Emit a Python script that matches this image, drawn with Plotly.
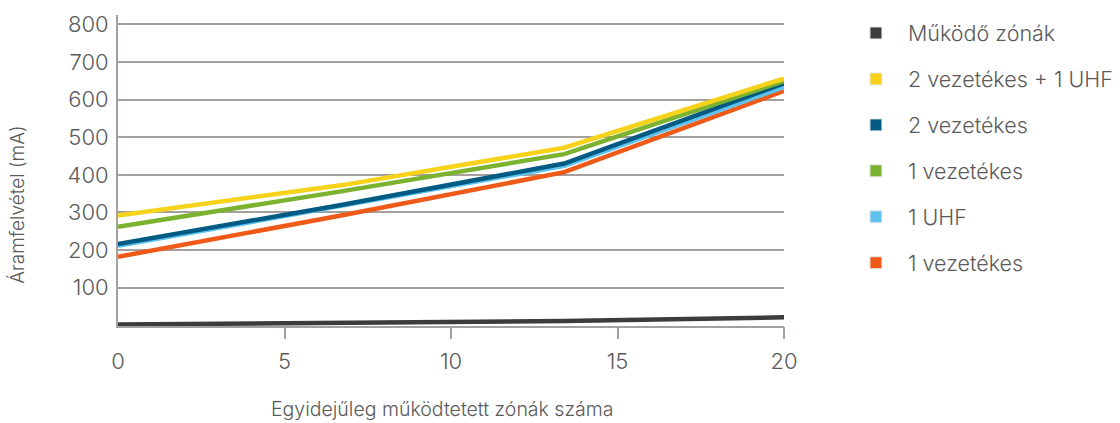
import plotly.graph_objects as go

# Number of simultaneously operated zones
zones = [0, 6.7, 13.4, 20]

# Current draw (mA) per configuration
mukodo_zonak = [2, 6, 11, 21]
ket_vez_uhf = [292, 372, 472, 656]
ket_vez = [216, 320, 430, 643]
egy_vez_zold = [262, 356, 455, 649]
egy_uhf = [211, 316, 424, 634]
egy_vez_narancs = [182, 292, 407, 623]

y_ticks = [100, 200, 300, 400, 500, 600, 700, 800]
x_ticks = [0, 5, 10, 15, 20]

series = [
    ("Működő zónák", mukodo_zonak, "#3c3c3c"),
    ("2 vezetékes + 1 UHF", ket_vez_uhf, "#f6d31a"),
    ("2 vezetékes", ket_vez, "#035b84"),
    ("1 vezetékes", egy_vez_zold, "#7bb230"),
    ("1 UHF", egy_uhf, "#5dc2ee"),
    ("1 vezetékes", egy_vez_narancs, "#ef5a18"),
]

# drawing order: bottom to top
draw_order = [5, 4, 2, 3, 1, 0]

FONT = "Inter, Lato, sans-serif"
W = 300
TXT = "#5a5a5a"
GRID = "#a5a09d"

fig = go.Figure()

for i in draw_order:
    name, vals, col = series[i]
    fig.add_trace(go.Scatter(
        x=zones, y=vals, mode="lines", name=name,
        line=dict(color=col, width=4.5),
        legendgroup=f"g{i}", showlegend=False, hoverinfo="x+y+name",
    ))

# legend entries with square swatches
for i, (name, vals, col) in enumerate(series):
    fig.add_trace(go.Scatter(
        x=[None], y=[None], mode="markers", name=name,
        marker=dict(symbol="square", size=12, color=col,
                    line=dict(color="#e8e8e8", width=1)),
        legendgroup=f"g{i}", showlegend=True,
    ))

# invisible carrier for the tick marks on the x axis
fig.add_trace(go.Scatter(x=[None], y=[None], xaxis="x2", showlegend=False))

fig.update_layout(
    width=1120, height=423,
    margin=dict(l=118, r=336, t=15, b=97, autoexpand=False),
    paper_bgcolor="white", plot_bgcolor="white",
    font=dict(family=FONT, color=TXT, weight=W),
    showlegend=True,
    legend=dict(
        x=1.090, xanchor="left", y=1.008, yanchor="top",
        font=dict(size=21.5, color=TXT, family=FONT, weight=W),
        tracegroupgap=15, itemwidth=54, maxheight=400,
        bgcolor="rgba(0,0,0,0)",
    ),
    xaxis=dict(
        range=[0, 20], tickvals=x_ticks, ticktext=[str(v) for v in x_ticks],
        showgrid=False, zeroline=False,
        showline=True, linecolor=GRID, linewidth=2,
        ticks="outside", ticklen=12, tickcolor="rgba(0,0,0,0)",
        ticklabelstandoff=3,
        tickfont=dict(size=22, color=TXT, family=FONT, weight=W),
    ),
    xaxis2=dict(
        range=[0, 20], overlaying="x", anchor="y", side="bottom",
        tickvals=x_ticks[1:], showticklabels=False,
        ticks="outside", ticklen=12, tickcolor=GRID, tickwidth=2,
        showgrid=False, zeroline=False, showline=False,
    ),
    yaxis=dict(
        range=[-2, 825], tickvals=y_ticks,
        showgrid=True, gridcolor=GRID, gridwidth=2,
        zeroline=False,
        showline=True, linecolor=GRID, linewidth=2,
        ticks="", ticklabelstandoff=3,
        tickfont=dict(size=22, color=TXT, family=FONT, weight=W),
    ),
    annotations=[
        dict(text="Egyidejűleg működtetett zónák száma",
             xref="paper", yref="paper", x=(442 - 118) / 666, y=-0.268,
             xanchor="center", yanchor="middle", showarrow=False,
             font=dict(size=19.5, color=TXT, family=FONT, weight=W)),
        dict(text="Áramfelvétel (mA)", textangle=-90,
             xref="paper", yref="paper", x=-0.152, y=(326 - 205) / 311,
             xanchor="center", yanchor="middle", showarrow=False,
             font=dict(size=19, color=TXT, family=FONT, weight=W)),
    ],
)

fig.write_html("out.html")
